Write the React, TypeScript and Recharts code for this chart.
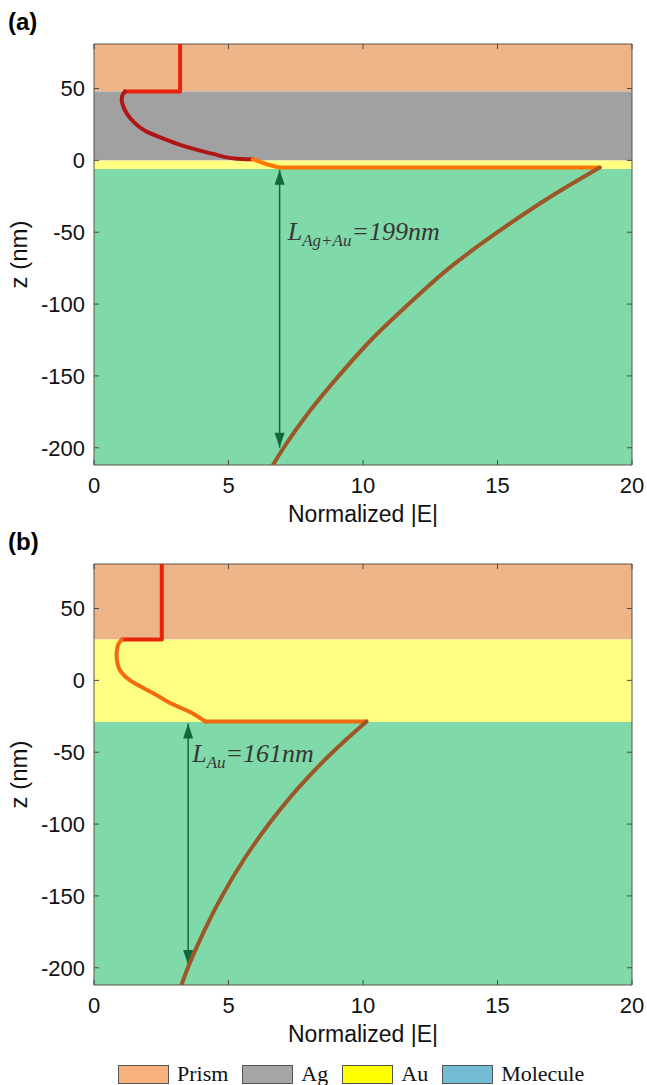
import React from "react";
import {
  ReferenceArea,
  ReferenceLine,
  Scatter,
  ScatterChart,
  XAxis,
  YAxis,
} from "recharts";

const xTicks = [0, 5, 10, 15, 20];
const zTicks = [-200, -150, -100, -50, 0, 50];
const xDomain: [number, number] = [0, 20];
const zDomain: [number, number] = [-212, 81];

// layer stacks (z in nm)
const layersA = [
  { layer: "Prism", top: 81, bottom: 48 },
  { layer: "Ag", top: 48, bottom: 0 },
  { layer: "Au", top: 0, bottom: -6 },
  { layer: "Molecule", top: -6, bottom: -212 },
];
const layersB = [
  { layer: "Prism", top: 81, bottom: 28.4 },
  { layer: "Au", top: 28.4, bottom: -29 },
  { layer: "Molecule", top: -29, bottom: -212 },
];

// panel (a) field profile
const prismFieldA = [
  { e: 3.2, z: 81 },
  { e: 3.2, z: 48 },
  { e: 1.15, z: 48 },
];
const agFieldA = [
  { e: 1.15, z: 48 },
  { e: 1.05, z: 45 },
  { e: 1.03, z: 42 },
  { e: 1.1, z: 37 },
  { e: 1.34, z: 29.5 },
  { e: 1.96, z: 20 },
  { e: 2.6, z: 15 },
  { e: 3.2, z: 10.8 },
  { e: 3.8, z: 7.5 },
  { e: 4.43, z: 4.5 },
  { e: 5.3, z: 1.2 },
  { e: 5.9, z: 0.8 },
];
const auFieldA = [
  { e: 5.9, z: 0.8 },
  { e: 6.4, z: -2.5 },
  { e: 6.9, z: -5 },
];
const jumpA = [
  { e: 6.9, z: -5 },
  { e: 18.8, z: -5 },
];
const moleculeFieldA = [
  { e: 18.8, z: -5 },
  { e: 17.0, z: -25 },
  { e: 15.0, z: -50 },
  { e: 13.2, z: -75 },
  { e: 11.7, z: -100 },
  { e: 10.3, z: -125 },
  { e: 9.1, z: -150 },
  { e: 8.0, z: -175 },
  { e: 7.05, z: -200 },
  { e: 6.65, z: -212 },
];
const arrowA = [
  { e: 6.9, z: -6.6, dir: "up" },
  { e: 6.9, z: -200, dir: "down" },
];
const noteA = [{ e: 7.2, z: -55.5, sub: "Ag+Au", value: "199" }];

// panel (b)
const prismFieldB = [
  { e: 2.52, z: 81 },
  { e: 2.52, z: 28.4 },
  { e: 1.03, z: 28.4 },
];
const auFieldB = [
  { e: 1.03, z: 28.4 },
  { e: 0.9, z: 25 },
  { e: 0.84, z: 18 },
  { e: 0.87, z: 12 },
  { e: 1.0, z: 6 },
  { e: 1.34, z: 0 },
  { e: 1.9, z: -6 },
  { e: 2.4, z: -11 },
  { e: 2.83, z: -15.8 },
  { e: 3.57, z: -22 },
  { e: 4.13, z: -28.6 },
];
const jumpB = [
  { e: 4.13, z: -28.6 },
  { e: 10.13, z: -28.6 },
];
const moleculeFieldB = [
  { e: 10.13, z: -28.6 },
  { e: 8.87, z: -50 },
  { e: 7.59, z: -75 },
  { e: 6.5, z: -100 },
  { e: 5.56, z: -125 },
  { e: 4.76, z: -150 },
  { e: 4.08, z: -175 },
  { e: 3.49, z: -200 },
  { e: 3.25, z: -212 },
];
const arrowB = [
  { e: 3.5, z: -30, dir: "up" },
  { e: 3.5, z: -198, dir: "down" },
];
const noteB = [{ e: 3.65, z: -56.5, sub: "Au", value: "161" }];

const legendItems = ["Prism", "Ag", "Au", "Molecule"];

const bandColors: Record<string, string> = {
  Prism: "#edb487",
  Ag: "#a1a1a1",
  Au: "#ffff84",
  Molecule: "#80d9a8",
};
const legendColors: Record<string, string> = {
  Prism: "#f8b07c",
  Ag: "#a6a6a6",
  Au: "#ffff00",
  Molecule: "#72bcd4",
};

const sansFont = "'Liberation Sans', Arial, sans-serif";
const serifFont = "'Liberation Serif', 'Times New Roman', serif";
const arrowColor = "#11693b";

interface Segment {
  data: { e: number; z: number }[];
  color: string;
  smooth?: boolean;
}

interface PanelProps {
  layers: { layer: string; top: number; bottom: number }[];
  segments: Segment[];
  arrow: { e: number; z: number; dir: string }[];
  note: { e: number; z: number; sub: string; value: string }[];
}

function ArrowHead(props: any) {
  const { cx, cy, payload } = props;
  const back = payload.dir === "up" ? 15 : -15;
  return (
    <polygon
      points={`${cx},${cy} ${cx - 5},${cy + back} ${cx + 5},${cy + back}`}
      fill={arrowColor}
    />
  );
}

function NoteText(props: any) {
  const { cx, cy, payload } = props;
  return (
    <text
      x={cx}
      y={cy}
      fontFamily={serifFont}
      fontStyle="italic"
      fontSize={26}
      fill="#363636"
    >
      L
      <tspan fontSize={17} dy={6}>
        {payload.sub}
      </tspan>
      <tspan dy={-6}>={payload.value}nm</tspan>
    </text>
  );
}

function YTitle(props: any) {
  const { viewBox } = props;
  const cx = 18;
  const cy = viewBox.y + viewBox.height / 2;
  return (
    <text
      x={cx}
      y={cy}
      transform={`rotate(-90, ${cx}, ${cy})`}
      textAnchor="middle"
      dominantBaseline="central"
      fontFamily={sansFont}
      fontSize={24}
      fill="#111"
    >
      z (nm)
    </text>
  );
}

function FieldPanel({ layers, segments, arrow, note }: PanelProps) {
  const tickColor = "#4a4a4a";
  const xTick = 0.19;
  const zTick = 3.5;
  return (
    <ScatterChart
      width={647}
      height={532}
      margin={{ top: 44, right: 15, bottom: 0, left: 0 }}
    >
      <XAxis
        type="number"
        dataKey="e"
        domain={xDomain}
        ticks={xTicks}
        interval={0}
        allowDataOverflow
        axisLine={false}
        tickLine={false}
        tickSize={0}
        tickMargin={12}
        height={67}
        tick={{ fontSize: 22, fill: "#111", fontFamily: sansFont }}
        label={{
          value: "Normalized |E|",
          position: "insideBottom",
          offset: 10,
          style: { fontSize: 23, fill: "#111", fontFamily: sansFont },
        }}
      />
      <YAxis
        type="number"
        dataKey="z"
        domain={zDomain}
        ticks={zTicks}
        interval={0}
        allowDataOverflow
        axisLine={false}
        tickLine={false}
        tickSize={0}
        tickMargin={9}
        width={94}
        tick={{ fontSize: 22, fill: "#111", fontFamily: sansFont }}
        label={{ content: YTitle }}
      />
      {layers.map((band) => (
        <ReferenceArea
          key={band.layer}
          x1={xDomain[0]}
          x2={xDomain[1]}
          y1={band.bottom}
          y2={band.top}
          fill={bandColors[band.layer]}
          fillOpacity={1}
          stroke="none"
        />
      ))}
      <ReferenceArea
        x1={xDomain[0]}
        x2={xDomain[1]}
        y1={zDomain[0]}
        y2={zDomain[1]}
        fill="none"
        fillOpacity={0}
        stroke="#5a5048"
        strokeWidth={1}
      />
      {xTicks.map((t) => (
        <ReferenceLine
          key={`xb${t}`}
          segment={[
            { x: t, y: zDomain[0] },
            { x: t, y: zDomain[0] + zTick },
          ]}
          stroke={tickColor}
        />
      ))}
      {xTicks.map((t) => (
        <ReferenceLine
          key={`xt${t}`}
          segment={[
            { x: t, y: zDomain[1] },
            { x: t, y: zDomain[1] - zTick },
          ]}
          stroke={tickColor}
        />
      ))}
      {zTicks.map((t) => (
        <ReferenceLine
          key={`zl${t}`}
          segment={[
            { x: xDomain[0], y: t },
            { x: xDomain[0] + xTick, y: t },
          ]}
          stroke={tickColor}
        />
      ))}
      {zTicks.map((t) => (
        <ReferenceLine
          key={`zr${t}`}
          segment={[
            { x: xDomain[1], y: t },
            { x: xDomain[1] - xTick, y: t },
          ]}
          stroke={tickColor}
        />
      ))}
      <Scatter
        data={arrow}
        line={{ stroke: arrowColor, strokeWidth: 1.5 }}
        lineJointType="linear"
        shape={ArrowHead}
        isAnimationActive={false}
      />
      {segments.map((seg, i) => (
        <Scatter
          key={i}
          data={seg.data}
          line={{
            stroke: seg.color,
            strokeWidth: 4,
            strokeLinejoin: "round",
            strokeLinecap: "round",
          }}
          lineJointType={seg.smooth ? "monotoneY" : "linear"}
          shape={() => <g />}
          isAnimationActive={false}
        />
      ))}
      <Scatter data={note} shape={NoteText} isAnimationActive={false} />
    </ScatterChart>
  );
}

function PanelTag({ text, top }: { text: string; top: number }) {
  return (
    <div
      style={{
        position: "absolute",
        left: 8,
        top,
        fontFamily: sansFont,
        fontWeight: "bold",
        fontSize: 24,
        lineHeight: "28px",
      }}
    >
      {text}
    </div>
  );
}

export default function App() {
  return (
    <div
      style={{
        position: "absolute",
        left: 0,
        top: 0,
        width: 647,
        height: 1085,
        background: "#fff",
        overflow: "hidden",
      }}
    >
      <PanelTag text="(a)" top={8} />
      <div style={{ position: "absolute", left: 0, top: 0 }}>
        <FieldPanel
          layers={layersA}
          segments={[
            { data: prismFieldA, color: "#e8230c" },
            { data: agFieldA, color: "#b01616", smooth: true },
            { data: auFieldA, color: "#ff7800", smooth: true },
            { data: jumpA, color: "#ff7800" },
            { data: moleculeFieldA, color: "#9c5628", smooth: true },
          ]}
          arrow={arrowA}
          note={noteA}
        />
      </div>
      <PanelTag text="(b)" top={528} />
      <div style={{ position: "absolute", left: 0, top: 520 }}>
        <FieldPanel
          layers={layersB}
          segments={[
            { data: prismFieldB, color: "#e8230c" },
            { data: auFieldB, color: "#f56a0c", smooth: true },
            { data: jumpB, color: "#ef6a10" },
            { data: moleculeFieldB, color: "#9c5628", smooth: true },
          ]}
          arrow={arrowB}
          note={noteB}
        />
      </div>
      <div
        style={{
          position: "absolute",
          left: 118,
          top: 1064,
          display: "flex",
          alignItems: "center",
          fontFamily: serifFont,
          fontSize: 22,
          lineHeight: "20px",
          color: "#111",
        }}
      >
        {legendItems.map((item) => (
          <div
            key={item}
            style={{ display: "flex", alignItems: "center", marginRight: 14 }}
          >
            <span
              style={{
                display: "inline-block",
                width: 49,
                height: 17,
                background: legendColors[item],
                border: "1px solid #555",
                marginRight: 8,
              }}
            />
            {item}
          </div>
        ))}
      </div>
    </div>
  );
}
